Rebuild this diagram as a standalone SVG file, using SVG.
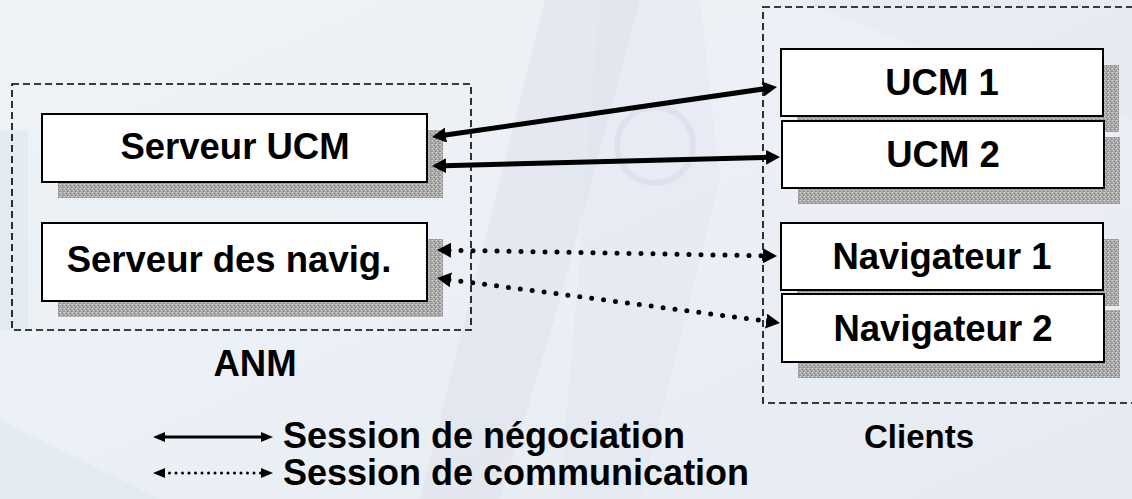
<svg xmlns="http://www.w3.org/2000/svg" width="1132" height="499" viewBox="0 0 1132 499">
<style>
.box{fill:#ffffff;stroke:#000000;stroke-width:2}
.shadow{fill:url(#stipple)}
.lbl{font-family:"Liberation Sans",Arial,sans-serif;font-weight:bold;font-size:36.5px;fill:#000000}
.leg{font-family:"Liberation Sans",Arial,sans-serif;font-weight:bold;font-size:36px;fill:#000000}
.group{fill:none;stroke:#000000;stroke-width:1.6;stroke-dasharray:7 4}
.neg{fill:none;stroke:#000000;stroke-width:5;marker-start:url(#head);marker-end:url(#head)}
.com{fill:none;stroke:#000000;stroke-width:5;stroke-linecap:round;stroke-dasharray:0 12;marker-start:url(#head);marker-end:url(#head)}
.negL{fill:none;stroke:#000000;stroke-width:3;marker-start:url(#headS);marker-end:url(#headS)}
.comL{fill:none;stroke:#000000;stroke-width:3;stroke-linecap:round;stroke-dasharray:0 6.5;marker-start:url(#headS);marker-end:url(#headS)}
</style>
<defs>
<linearGradient id="bg" x1="0" y1="0" x2="1" y2="1">
<stop offset="0" stop-color="#eef3f7"/>
<stop offset="0.5" stop-color="#ebf0f6"/>
<stop offset="1" stop-color="#e6eaf2"/>
</linearGradient>
<pattern id="stipple" width="4" height="4" patternUnits="userSpaceOnUse">
<rect width="4" height="4" fill="#a9a9a9"/>
<rect x="0" y="0" width="1" height="1" fill="#d8d8d8"/>
<rect x="2" y="1" width="1" height="1" fill="#7d7d7d"/>
<rect x="1" y="2" width="1" height="1" fill="#cfcfcf"/>
<rect x="3" y="3" width="1" height="1" fill="#8a8a8a"/>
<rect x="3" y="0" width="1" height="1" fill="#bdbdbd"/>
<rect x="0" y="3" width="1" height="1" fill="#949494"/>
</pattern>
<marker id="head" viewBox="0 0 14 15" refX="2" refY="7.5" markerWidth="14" markerHeight="15" markerUnits="userSpaceOnUse" orient="auto-start-reverse">
<path d="M0,0 L14,7.5 L0,15 z" fill="#000000"/>
</marker>
<marker id="headS" viewBox="0 0 12 10" refX="2" refY="5" markerWidth="12" markerHeight="10" markerUnits="userSpaceOnUse" orient="auto-start-reverse">
<path d="M0,0 L12,5 L0,10 z" fill="#000000"/>
</marker>
</defs>

<g id="background">
<rect x="0" y="0" width="1132" height="499" fill="url(#bg)"/>
<path d="M545,0 L640,0 L560,300 L500,499 L420,499 Z" fill="#d9dde9" opacity="0.4"/>
<path d="M600,0 L700,0 L720,180 L640,499 L560,499 Z" fill="#dfe2ec" opacity="0.3"/>
<circle cx="655" cy="145" r="38" fill="none" stroke="#d6dbe6" stroke-width="6" opacity="0.55"/>
<rect x="0" y="130" width="28" height="200" fill="#dde7f0" opacity="0.6"/>
<path d="M800,0 L1132,0 L1132,120 L900,40 Z" fill="#dfe4ee" opacity="0.35"/>
<path d="M0,420 L160,499 L0,499 Z" fill="#dde4ee" opacity="0.45"/>
</g>

<g id="anm-group">
<rect class="group" x="12" y="84" width="459" height="246"/>
<text class="lbl" x="255" y="376" text-anchor="middle">ANM</text>
</g>
<g id="clients-group">
<rect class="group" x="763" y="7" width="380" height="396"/>
<text class="lbl" x="919" y="448" text-anchor="middle" style="font-size:33px">Clients</text>
</g>

<g id="serveur-ucm">
<rect class="shadow" x="58" y="130" width="385" height="68"/>
<rect class="box" x="42" y="114" width="385" height="68"/>
<text class="lbl" x="235" y="159" text-anchor="middle">Serveur UCM</text>
</g>
<g id="serveur-navig">
<rect class="shadow" x="58" y="239" width="385" height="78"/>
<rect class="box" x="42" y="223" width="385" height="78"/>
<text class="lbl" x="229" y="272" text-anchor="middle">Serveur des navig.</text>
</g>
<g id="ucm1">
<rect class="shadow" x="797" y="65" width="322" height="67"/>
<rect class="box" x="781" y="49" width="322" height="67"/>
<text class="lbl" x="942" y="95" text-anchor="middle">UCM 1</text>
</g>
<g id="ucm2">
<rect class="shadow" x="798" y="137" width="322" height="67"/>
<rect class="box" x="782" y="121" width="322" height="67"/>
<text class="lbl" x="943" y="167" text-anchor="middle">UCM 2</text>
</g>
<g id="navigateur1">
<rect class="shadow" x="797" y="239" width="322" height="67"/>
<rect class="box" x="781" y="223" width="322" height="67"/>
<text class="lbl" x="942" y="269" text-anchor="middle">Navigateur 1</text>
</g>
<g id="navigateur2">
<rect class="shadow" x="798" y="310" width="322" height="68"/>
<rect class="box" x="782" y="294" width="322" height="68"/>
<text class="lbl" x="943" y="341" text-anchor="middle">Navigateur 2</text>
</g>

<g id="connectors">
<path class="neg" d="M443.9,135.3 L765.1,88.7"/>
<path class="neg" d="M444,165.7 L768,157.3"/>
<path class="com" d="M449,250.2 L765,255.8"/>
<path class="com" d="M448.9,279.6 L768.1,321.4"/>
</g>

<g id="legend">
<path class="negL" d="M163,437 L263,437"/>
<path class="comL" d="M163,473 L263,473"/>
<text class="leg" x="283" y="448">Session de négociation</text>
<text class="leg" x="283" y="485">Session de communication</text>
</g>
</svg>
